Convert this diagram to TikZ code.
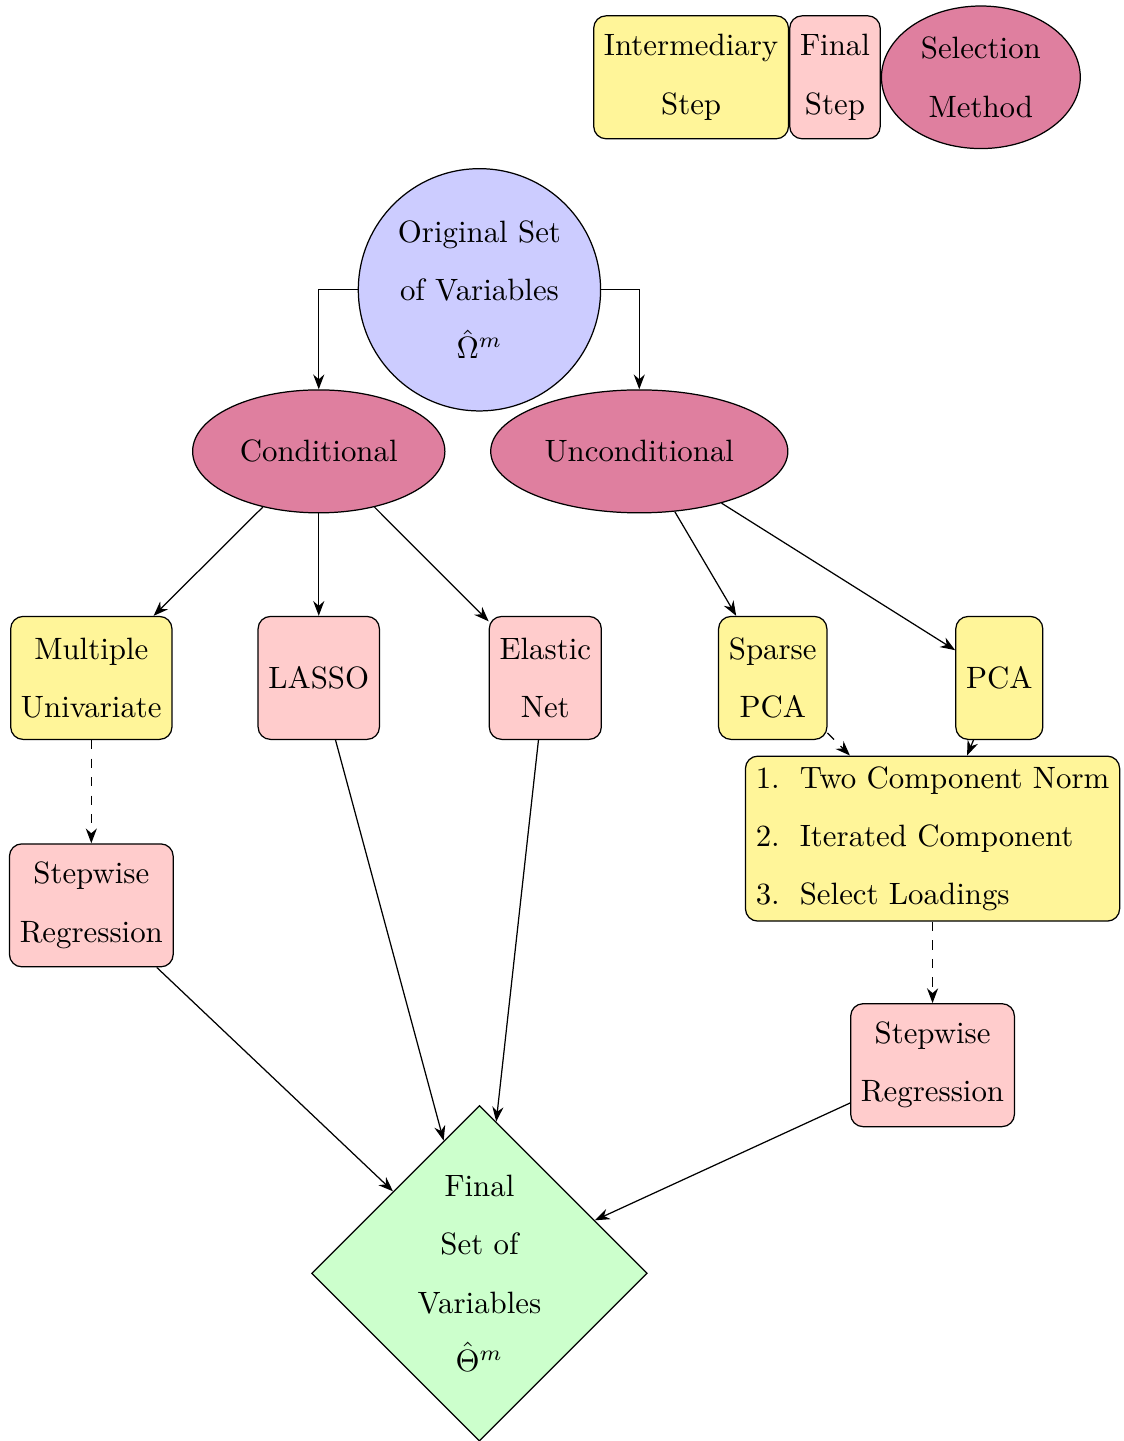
\documentclass[tikz,border=0pt]{standalone}
\usepackage{tikz}
\usepackage{xcolor}
\usetikzlibrary{shapes.geometric, arrows.meta, positioning}
\linespread{1.57}
\definecolor{StepYellow}{HTML}{FFF599}
\definecolor{FinalPink}{HTML}{FFCCCC}
\definecolor{MethodRose}{HTML}{DF7F9F}
\definecolor{StartBlue}{HTML}{CCCCFF}
\definecolor{EndGreen}{HTML}{CCFFCC}
\tikzset{
    % Box styles
    interstep/.style={
        rectangle,
        rounded corners,
        draw=black,
        fill=StepYellow,
        minimum height=1.4cm,
        align=center
    },
    finalstep/.style={
        rectangle,
        rounded corners,
        draw=black,
        fill=FinalPink,
        minimum height=1.4cm,
        align=center
    },
    method/.style={
        ellipse,
        draw=black,
        fill=MethodRose,
        minimum height=1.4cm,
        align=center
    },
    start/.style={
        circle,
        draw=black,
        fill=StartBlue,
        align=center
    },
    outcome/.style={
        diamond,
        draw=black,
        fill=EndGreen,
        inner sep=1.3pt,
        align=center
    },
    % Arrow styles
    arrow/.style={
        ->,
        >=Stealth
    },
    dashedarrow/.style={
        ->,
        >=Stealth,
        dashed
    }
}
\begin{document}
\begin{tikzpicture}
    \useasboundingbox (0,0) rectangle (12.80,-16.41);

    % Legend
    \node[method] (legmethod) at (11.17,-0.88) {Selection\\Method};
    \node[finalstep, left=0pt of legmethod] (legfinal) {Final\\Step};
    \node[interstep, left=0pt of legfinal] (leginter) {Intermediary\\Step};

    % Original set
    \node[start] (orig) at (5.46,-3.30) {Original Set\\of Variables\\$\hat{\Omega}^m$};

    % Selection methods
    \node[method] (cond) at (3.63,-5.14) {Conditional};
    \node[method] (uncond) at (7.28,-5.14) {Unconditional};

    % Techniques
    \node[interstep] (mult) at (1.04,-7.72) {Multiple\\Univariate};
    \node[finalstep] (lasso) at (3.63,-7.72) {LASSO};
    \node[finalstep] (elastic) at (6.21,-7.72) {Elastic\\Net};
    \node[interstep] (sparse) at (8.80,-7.72) {Sparse\\PCA};
    \node[interstep] (pca) at (11.38,-7.72) {PCA};
    \node[interstep, align=left] (crit) at (10.62,-9.55) {1.\hspace{6.5pt}Two Component Norm\\2.\hspace{6.5pt}Iterated Component\\3.\hspace{6.5pt}Select Loadings};

    % Stepwise
    \node[finalstep] (stepl) at (1.04,-10.31) {Stepwise\\Regression};
    \node[finalstep] (stepr) at (10.62,-12.13) {Stepwise\\Regression};

    % Final set
    \node[outcome] (final) at (5.46,-14.50) {Final\\Set of\\Variables\\$\hat{\Theta}^m$};

    % Arrows
    \draw[arrow] (orig.west) -| (cond.north);
    \draw[arrow] (orig.east) -| (uncond.north);
    \foreach \t in {mult,lasso,elastic} {
        \draw[arrow] (cond) -- (\t);
    }
    \foreach \t in {sparse,pca} {
        \draw[arrow] (uncond) -- (\t);
    }
    \draw[dashedarrow] (mult) -- (stepl);
    \draw[dashedarrow] (sparse) -- (crit);
    \draw[arrow] (pca) -- (crit);
    \draw[dashedarrow] (crit) -- (stepr);
    \foreach \s in {stepl,lasso,elastic,stepr} {
        \draw[arrow] (\s) -- (final);
    }
\end{tikzpicture}
\end{document}
